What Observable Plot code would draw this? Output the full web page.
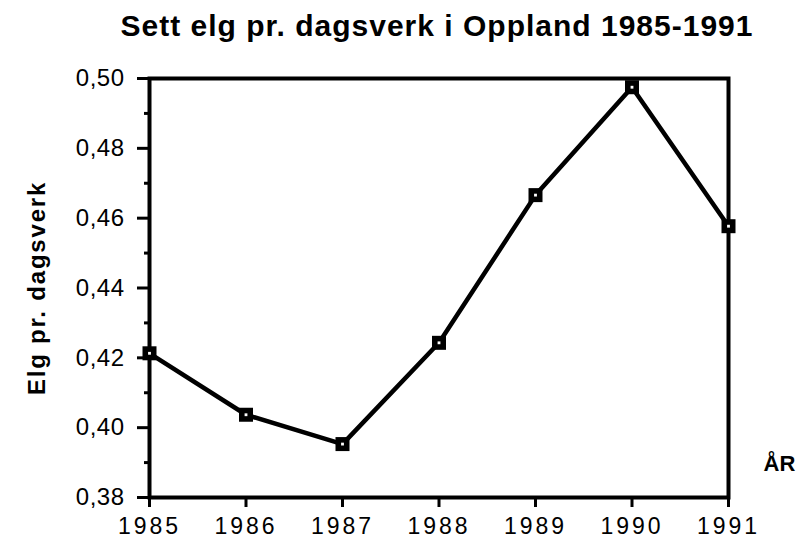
<!DOCTYPE html>
<html><head><meta charset="utf-8">
<script src="https://cdn.jsdelivr.net/npm/d3@7"></script>
<script src="https://cdn.jsdelivr.net/npm/@observablehq/plot@0.6"></script>
<style>
body{margin:0;background:#fff;font-family:"Liberation Sans",Arial,Helvetica,sans-serif}
#title{height:50px;box-sizing:border-box;padding-left:72px;width:802px;text-align:center;font-weight:bold;font-size:30px;letter-spacing:1px;line-height:52px;color:#000;white-space:nowrap}
g[aria-label="x-axis tick label"] text{letter-spacing:3px}
g[aria-label="y-axis tick label"] text{letter-spacing:0.5px}
</style></head><body>
<div id="title">Sett elg pr. dagsverk i Oppland 1985-1991</div>
<div id="chart"></div>
<script>
const years = [1985, 1986, 1987, 1988, 1989, 1990, 1991];
const values = [0.4213, 0.4037, 0.3953, 0.4243, 0.4666, 0.4975, 0.4577];
const yTicks = [0.38, 0.40, 0.42, 0.44, 0.46, 0.48, 0.50];
const yMinor = [0.39, 0.41, 0.43, 0.45, 0.47, 0.49];
const yAxisLabel = "Elg pr. dagsverk";
const xAxisLabel = "ÅR";

const data = years.map((year, i) => ({year, value: values[i]}));
const fmt = d => d3.format(".2f")(d).replace(".", ",");

const chart = Plot.plot({
  width: 802,
  height: 490,
  marginTop: 28,
  marginBottom: 43,
  marginLeft: 149,
  marginRight: 74,
  style: {fontFamily: '"Liberation Sans", Arial, Helvetica, sans-serif', fontSize: "22px", color: "#000", background: "#fff", overflow: "visible"},
  x: {domain: [1985, 1991]},
  y: {domain: [0.38, 0.50]},
  marks: [
    Plot.axisY(yMinor, {tickSize: 5, strokeWidth: 3, tickFormat: () => "", label: null}),
    Plot.axisY(yTicks, {tickSize: 12, tickPadding: 13, strokeWidth: 3, tickFormat: fmt, fontSize: 24, label: null}),
    Plot.axisX(years, {tickSize: 10, tickPadding: 10, strokeWidth: 3, tickFormat: d => String(d), fontSize: 23, label: null}),
    Plot.frame({strokeWidth: 4, stroke: "#000"}),
    Plot.line(data, {x: "year", y: "value", stroke: "#000", strokeWidth: 4.5}),
    Plot.dot(data, {x: "year", y: "value", symbol: "square", r: 7.9, fill: "#000", stroke: "none"}),
    Plot.dot(data, {x: "year", y: "value", symbol: "square", r: 1.6, fill: "#fff", stroke: "none"}),
    Plot.text([yAxisLabel], {text: d => d, frameAnchor: "left", textAnchor: "middle", dx: -112, rotate: -90, fontSize: 24, fontWeight: "bold"}),
    Plot.text([xAxisLabel], {text: d => d, frameAnchor: "bottom-right", textAnchor: "start", dx: 35, dy: -27, fontSize: 22, fontWeight: "bold"})
  ]
});
d3.select(chart).selectAll("text").filter(function() { return this.textContent === yAxisLabel; }).style("letter-spacing", "1.8px");
document.getElementById("chart").appendChild(chart);
</script>
</body></html>
